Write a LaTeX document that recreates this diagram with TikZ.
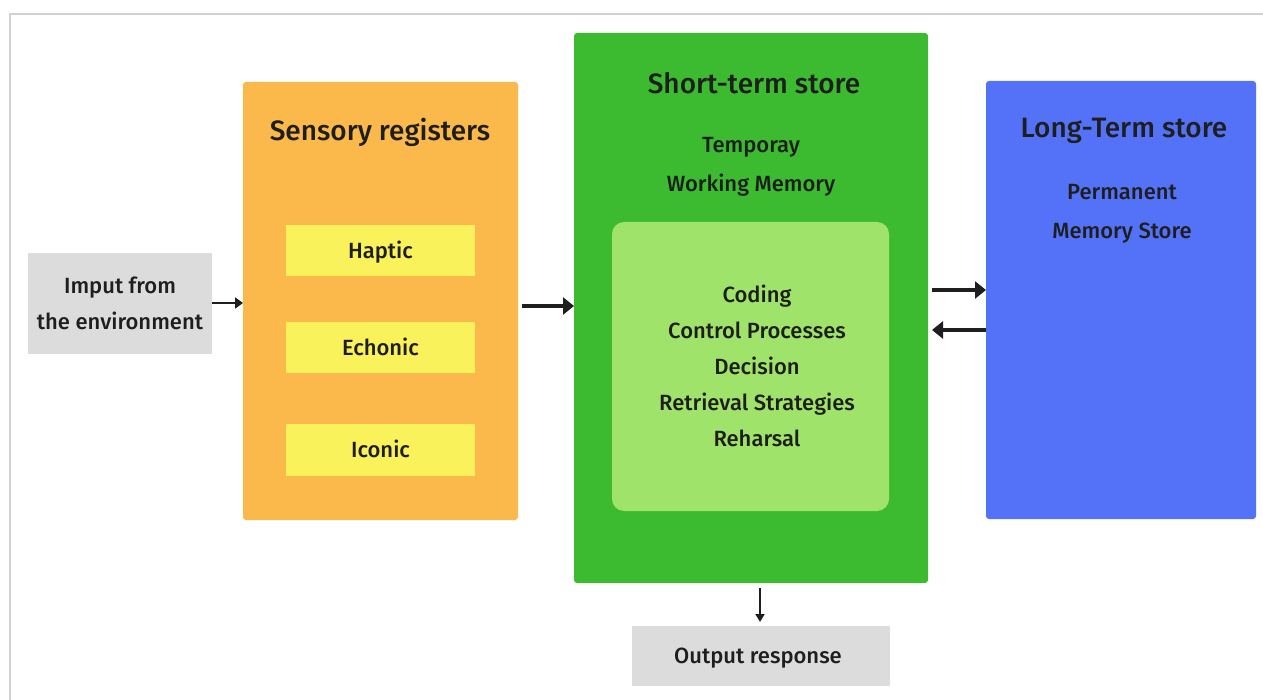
\documentclass[tikz,border=0pt]{standalone}
\usepackage{fontspec}
\setmainfont{Fira Sans}[UprightFont=* Medium]
\usetikzlibrary{arrows.meta}
\definecolor{boxgray}{HTML}{DCDCDC}
\definecolor{sensory}{HTML}{FBB84B}
\definecolor{reg}{HTML}{FAF25A}
\definecolor{stgreen}{HTML}{3CBA30}
\definecolor{proc}{HTML}{9FE36B}
\definecolor{ltblue}{HTML}{5472F8}
\definecolor{ink}{HTML}{1E1E1E}
\tikzset{
  panel/.style={rounded corners=3pt, inner sep=0pt},
  title/.style={font=\fontsize{28}{34}\selectfont, text=ink},
  body/.style={font=\fontsize{22}{36}\selectfont, text=ink, align=center},
  widebody/.style={body, font=\fontsize{22}{39}\selectfont},
  flow/.style={-{Triangle[length=8pt,width=11pt]}, line width=2.6pt, ink},
  thinflow/.style={-{Triangle[length=8pt,width=9pt]}, line width=1.8pt, ink},
  bigflow/.style={-{Triangle[length=11pt,width=17pt]}, line width=4.6pt, ink},
}
\begin{document}
\begin{tikzpicture}[x=1pt,y=-1pt]
\useasboundingbox (0,0) rectangle (1263,700);
% page frame
\draw[line width=2pt, gray!35] (10,700) -- (10,14) -- (1263,14);
% input block
\fill[boxgray] (28,253) rectangle (212,354);
\node[body] (input) at (120,303.5) {Imput from\\the environment};
% sensory registers
\fill[panel, sensory] (243,82) rectangle (518,520);
\coordinate (sensL) at (243,303);
\node[title] (senst) at (380,132) {Sensory registers};
\fill[reg] (286,225) rectangle (475,276);
\node[body] (haptic) at (380.5,252) {Haptic};
\fill[reg] (286,322) rectangle (475,373);
\node[body] (echonic) at (380.5,347) {Echonic};
\fill[reg] (286,424) rectangle (475,476);
\node[body] (iconic) at (380.5,449) {Iconic};
% short-term store
\fill[panel, stgreen] (574,33) rectangle (928,583);
\coordinate (stL) at (574,306);
\coordinate (stB) at (760,583);
\node[title] (stt) at (754,83) {Short-term store};
\node[widebody] (sts) at (751,167) {Temporay\\Working Memory};
\fill[rounded corners=12pt, proc] (612,222) rectangle (889,511);
\node[body] (procs) at (757,366) {Coding\\Control Processes\\Decision\\Retrieval Strategies\\Reharsal};
% long-term store
\fill[panel, ltblue] (986,81) rectangle (1256,519);
\node[title] (ltt) at (1124,131) {Long-Term store};
\node[widebody] (lts) at (1122,214) {Permanent\\Memory Store};
% output block
\fill[boxgray] (632,626) rectangle (890,686);
\node[body] (out) at (758,658) {Output response};
% connectors
\draw[flow] (212,303) -- (sensL);
\draw[bigflow] (522,306) -- (stL);
\draw[bigflow] (932,290) -- (986,290);
\draw[bigflow] (986,330) -- (932,330);
\draw[thinflow] (stB) ++(0,5) -- (760,622);
\end{tikzpicture}
\end{document}
